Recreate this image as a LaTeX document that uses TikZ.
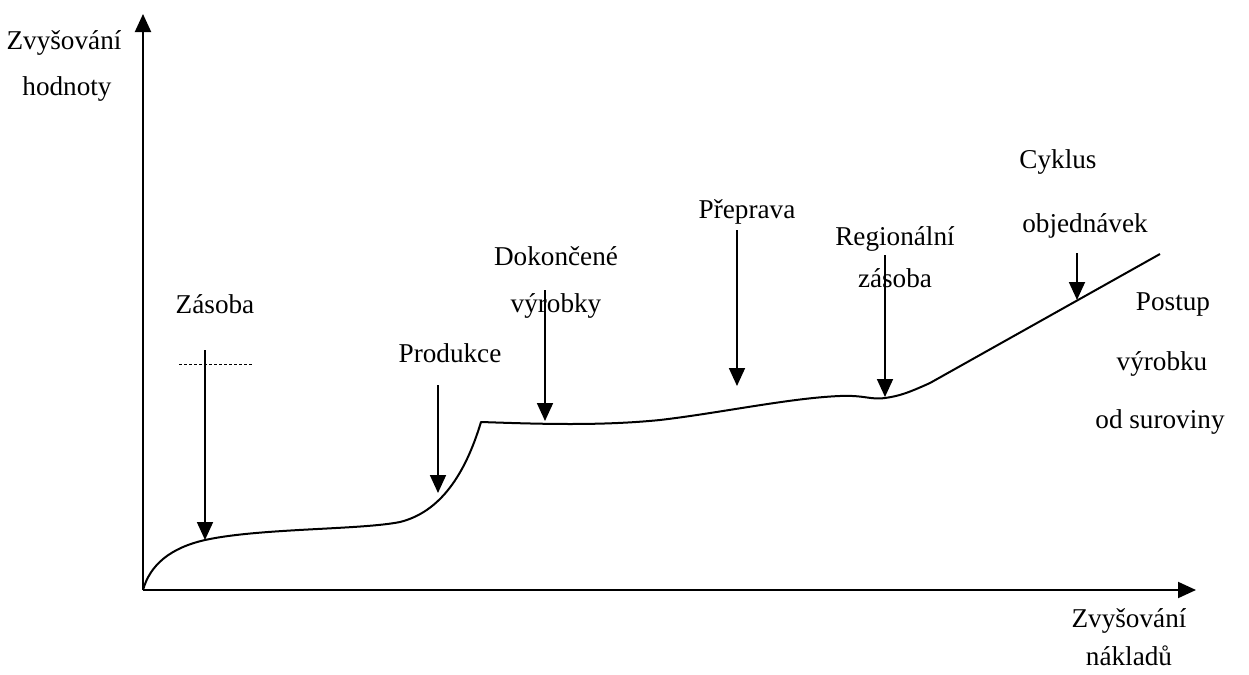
\documentclass[tikz,border=0pt]{standalone}
\usepackage{fontspec}
\setmainfont{Liberation Serif}
\usetikzlibrary{arrows.meta}
\begin{document}
\begin{tikzpicture}[x=0.5pt,y=-0.5pt,
  lbl/.style={font=\fontsize{13.6}{16}\selectfont, anchor=base, inner sep=0pt},
  ptr/.style={-{Triangle[width=8pt,length=9pt]}, line width=0.9pt},
  axisline/.style={-{Triangle[width=8pt,length=9pt]}, line width=1pt},
  curve/.style={line width=1pt, line join=round}]
\useasboundingbox (0,0) rectangle (1249,675);
% axes
\coordinate (O) at (143,590);
\coordinate (Ytop) at (143,14);
\coordinate (Xend) at (1196,590);
\draw[axisline] (O) -- (Ytop);
\draw[axisline] (O) -- (Xend);
% axis labels
\node[lbl] (yl1) at (64,49) {Zvyšování};
\node[lbl] (yl2) at (67,95) {hodnoty};
\node[lbl] (xl1) at (1129,627) {Zvyšování};
\node[lbl] (xl2) at (1129,665) {nákladů};
% curve
\draw[curve] (O) .. controls (150,565) and (170,548) .. (205,540)
  .. controls (260,528) and (360,530) .. (400,522)
  .. controls (440,512) and (465,475) .. (481,422)
  .. controls (540,424) and (600,426) .. (660,420)
  .. controls (720,413) and (790,398) .. (840,396)
  .. controls (865,395) and (870,400) .. (885,398)
  .. controls (900,396) and (910,392) .. (930,383)
  -- (1160,254);
% labels
\node[lbl] (zas) at (215,313) {Zásoba};
\draw[line width=0.5pt, dash pattern=on 1.5pt off 1pt] (179,364) -- (252,364);
\node[lbl] (prod) at (450,362) {Produkce};
\node[lbl] (dok1) at (556,265) {Dokončené};
\node[lbl] (dok2) at (556,312) {výrobky};
\node[lbl] (prep) at (747,218) {Přeprava};
\node[lbl] (reg1) at (895,245) {Regionální};
\node[lbl] (reg2) at (895,287) {zásoba};
\node[lbl] (cyk1) at (1058,168) {Cyklus};
\node[lbl] (cyk2) at (1085,232) {objednávek};
\node[lbl] (pos1) at (1173,310) {Postup};
\node[lbl] (pos2) at (1162,370) {výrobku};
\node[lbl] (pos3) at (1160,428) {od suroviny};
% arrow coordinates
\coordinate (a1s) at (205,350); \coordinate (a1e) at (205,540);
\coordinate (a2s) at (438,385); \coordinate (a2e) at (438,493);
\coordinate (a3s) at (545,290); \coordinate (a3e) at (545,421);
\coordinate (a4s) at (737,230); \coordinate (a4e) at (737,386);
\coordinate (a5s) at (885,255); \coordinate (a5e) at (885,397);
\coordinate (a6s) at (1077,253); \coordinate (a6e) at (1077,300);
\draw[ptr] (a1s) -- (a1e);
\draw[ptr] (a2s) -- (a2e);
\draw[ptr] (a3s) -- (a3e);
\draw[ptr] (a4s) -- (a4e);
\draw[ptr] (a5s) -- (a5e);
\draw[ptr] (a6s) -- (a6e);
\end{tikzpicture}
\end{document}
